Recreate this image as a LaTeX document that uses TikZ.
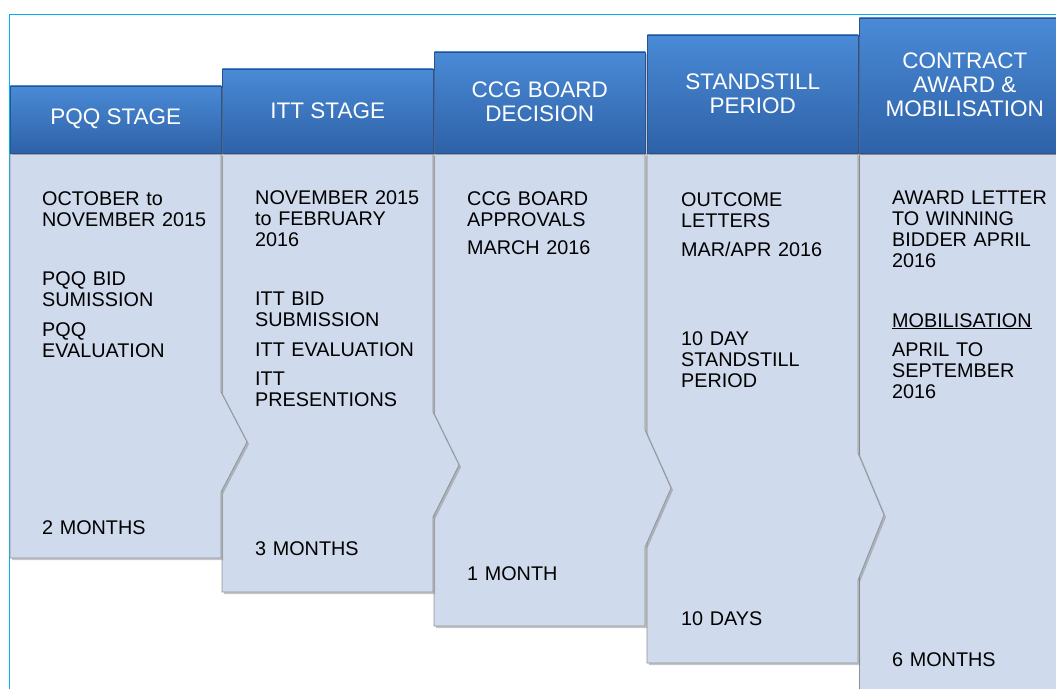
\documentclass[tikz,border=0pt]{standalone}
\usepackage{fontspec}
\setmainfont{Liberation Sans}
\usetikzlibrary{shadows}

\definecolor{framecyan}{HTML}{00B0F0}
\definecolor{hdtop}{HTML}{4A8AD6}
\definecolor{hdbot}{HTML}{2E62A8}
\definecolor{bodyfill}{HTML}{CFDAEC}

\begin{document}
\begin{tikzpicture}[x=1pt, y=-1pt,
  colshadow/.style={drop shadow={shadow xshift=2pt, shadow yshift=-2pt, opacity=0.45}},
  hdr/.style={draw=hdbot!85!black, line width=0.5pt, top color=hdtop, bottom color=hdbot,
    text=white, align=center, minimum width=211pt, anchor=south west, inner sep=0pt,
    font=\fontsize{22.5}{24}\selectfont, colshadow},
  stagebody/.style={fill=bodyfill, draw=gray!80!bodyfill, line width=0.7pt, colshadow},
  txt/.style={anchor=base west, inner sep=0pt, text width=190pt, align=left,
    font=\fontsize{19.8}{21}\selectfont}]

\useasboundingbox (0,0) rectangle (1056,688);
\clip (0,0) rectangle (1056,688);

% Marco
\draw[framecyan, line width=1pt] (9.5,700) -- (9.5,14) -- (1070,14);

% Cuerpos (de derecha a izquierda)
\draw[stagebody] (859,154) rectangle (1070,700);
\foreach \L/\R/\B/\s/\p/\e in {647/858/663/453/515/580, 434/645/626/430/488/547,
                               222/433/592/412/465/517, 10/221/558/392/442/492}
  \draw[stagebody] (\L,154) -- (\R,154) -- (\R,\s) -- (\R+26,\p) -- (\R,\e) -- (\R,\B) -- (\L,\B) -- cycle;

% Cabeceras
\node[hdr, minimum height=135pt] (contract) at (859,153) {CONTRACT\\AWARD \&\\MOBILISATION};
\node[hdr, minimum height=118pt] (standstill) at (647,153) {STANDSTILL\\PERIOD};
\node[hdr, minimum height=101pt] (ccg) at (434,153) {CCG BOARD\\DECISION};
\node[hdr, minimum height=84pt] (itt) at (222,153) {ITT STAGE};
\node[hdr, minimum height=67pt] (pqq) at (10,153) {PQQ STAGE};

% Textos PQQ
\node[txt] (pqqdate) at (42,205) {OCTOBER to\\NOVEMBER 2015};
\node[txt] (pqqbid) at (42,285) {PQQ BID\\SUMISSION};
\node[txt] (pqqeval) at (42,336) {PQQ\\EVALUATION};
\node[txt] (pqqdur) at (42,534) {2 MONTHS};

% Textos ITT
\node[txt] (ittdate) at (255,204) {NOVEMBER 2015\\to FEBRUARY\\2016};
\node[txt] (ittbid) at (255,305) {ITT BID\\SUBMISSION};
\node[txt] (itteval) at (255,356) {ITT EVALUATION};
\node[txt] (ittpres) at (255,385) {ITT\\PRESENTIONS};
\node[txt] (ittdur) at (255,555) {3 MONTHS};

% Textos CCG
\node[txt] (ccgappr) at (467,205) {CCG BOARD\\APPROVALS};
\node[txt] (ccgdate) at (467,254) {MARCH 2016};
\node[txt] (ccgdur) at (467,580) {1 MONTH};

% Textos standstill
\node[txt] (stdletters) at (681,206) {OUTCOME\\LETTERS};
\node[txt] (stddate) at (681,256) {MAR/APR 2016};
\node[txt] (stdperiod) at (681,345) {10 DAY\\STANDSTILL\\PERIOD};
\node[txt] (stddur) at (681,625) {10 DAYS};

% Textos contrato
\node[txt] (conaward) at (892,204) {AWARD LETTER\\TO WINNING\\BIDDER APRIL\\2016};
\node[txt] (conmob) at (892,327) {\underline{MOBILISATION}};
\node[txt] (condate) at (892,356) {APRIL TO\\SEPTEMBER\\2016};
\node[txt] (condur) at (892,666) {6 MONTHS};

\end{tikzpicture}
\end{document}
